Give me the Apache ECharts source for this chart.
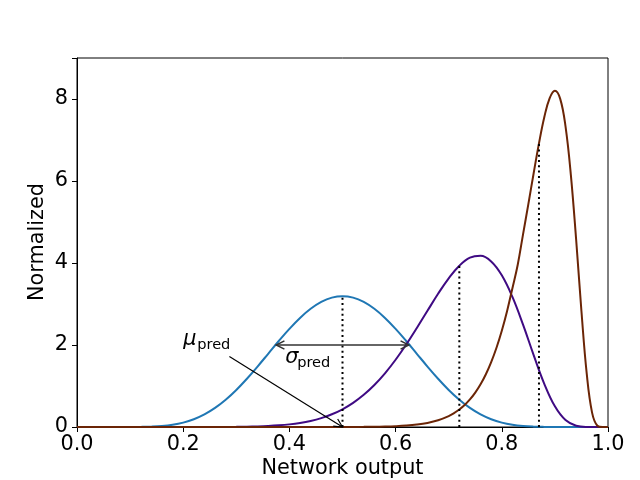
<!DOCTYPE html>
<html><head><meta charset="utf-8">
<script src="https://cdn.jsdelivr.net/npm/echarts@6/dist/echarts.min.js"></script>
<style>html,body{margin:0;padding:0;background:#fff;overflow:hidden}#c{width:640px;height:480px}</style>
</head><body><div id="c"></div>
<script>
const xGrid = [0,0.02,0.04,0.06,0.08,0.1,0.12,0.14,0.16,0.18,0.2,0.22,0.24,0.26,0.28,0.3,0.32,0.34,0.36,0.38,0.4,0.42,0.44,0.46,0.48,0.5,0.52,0.54,0.56,0.58,0.6,0.62,0.64,0.66,0.68,0.7,0.72,0.74,0.76,0.78,0.8,0.82,0.84,0.86,0.88,0.9,0.92,0.94,0.96,0.98,1];
const blueY = [0,0,0,0,0.0001,0.0006,0.0027,0.0091,0.0243,0.0544,0.1068,0.1887,0.3067,0.4650,0.6646,0.9038,1.1771,1.4750,1.7858,2.0975,2.3927,2.6593,2.8827,3.0512,3.1560,3.1915,3.1560,3.0512,2.8827,2.6593,2.3927,2.0975,1.7858,1.4750,1.1771,0.9038,0.6646,0.4650,0.3067,0.1887,0.1068,0.0544,0.0243,0.0091,0.0027,0.0006,0.0001,0,0,0,0];
const purpleY = [0,0,0,0,0,0,0,0,0,0,0.0001,0.0002,0.0004,0.0010,0.0021,0.0041,0.0078,0.0141,0.0242,0.0401,0.0640,0.0990,0.1487,0.2175,0.3101,0.4319,0.5883,0.7841,1.0238,1.3090,1.6395,2.0112,2.4147,2.8346,3.2483,3.6259,3.9337,4.1295,4.1747,4.0377,3.7002,3.1721,2.4963,1.7538,1.0541,0.5044,0.1692,0.0306,0.0016,0,0];
const brownX = [0,0.1,0.2,0.3,0.4,0.42,0.44,0.46,0.48,0.5,0.52,0.54,0.56,0.58,0.6,0.62,0.64,0.66,0.68,0.7,0.71,0.72,0.73,0.74,0.75,0.76,0.77,0.78,0.79,0.8,0.81,0.82,0.83,0.84,0.85,0.86,0.87,0.88,0.89,0.9,0.91,0.92,0.93,0.94,0.95,0.96,0.97,0.98,0.99,1];
const brownY = [0,0,0,0,0,0.0001,0.0001,0.0003,0.0006,0.0011,0.0020,0.0037,0.0067,0.0118,0.0206,0.0353,0.0598,0.0998,0.1642,0.2664,0.3377,0.4264,0.5361,0.6718,0.8379,1.0406,1.2862,1.5817,1.9330,2.3481,2.8311,3.3858,3.9588,4.6999,5.4356,6.1899,6.9177,7.5551,8.0170,8.2016,8.0026,7.3307,6.1571,4.5722,2.8221,1.2944,0.3512,0.0317,0.0001,0];
const meanX = [0.5, 0.72, 0.87];
const meanTop = [3.19, 3.93, 6.92];
const muTextPos = [0.2, 2.0];
const muArrowFrom = [0.287, 1.72];
const muArrowTo = [0.5, 0.0];
const sigmaArrow = [[0.375, 2.0], [0.625, 2.0]];
const sigmaTextPos = [0.392, 1.56];
const xTicks = [0, 0.2, 0.4, 0.6, 0.8, 1.0];
const yTicks = [0, 2, 4, 6, 8];
const xTitle = 'Network output';
const yTitle = 'Normalized';

const FONT = 'DejaVu Sans';
const FS = 20.8;
const SUB = 14.6;
const zip = (xs, ys) => xs.map((x, i) => [x, ys[i]]);

function arrowHead(tip, tail, L, W) {
  const dx = tip[0] - tail[0], dy = tip[1] - tail[1];
  const len = Math.sqrt(dx * dx + dy * dy);
  const ux = dx / len, uy = dy / len, nx = -uy, ny = ux;
  return [[tip[0] - L * ux + W * nx, tip[1] - L * uy + W * ny], tip, [tip[0] - L * ux - W * nx, tip[1] - L * uy - W * ny]];
}
function txt(x, y, s, size, italic) {
  return { type: 'text', x: x, y: y, style: { text: s, fontSize: size, fontFamily: FONT, fontStyle: italic ? 'italic' : 'normal', fill: '#000', align: 'left', verticalAlign: 'middle', textAlign: 'left', textVerticalAlign: 'middle' } };
}

const chart = echarts.init(document.getElementById('c'), null, { renderer: 'canvas' });
const lineBase = { type: 'line', showSymbol: false, symbol: 'none', smooth: 0.4, clip: true, animation: false };
const series = [
  Object.assign({}, lineBase, { data: zip(xGrid, blueY), lineStyle: { color: '#1f77b4', width: 2 }, z: 2 }),
  Object.assign({}, lineBase, { data: zip(xGrid, purpleY), lineStyle: { color: '#3f0a83', width: 2 }, z: 3 }),
  Object.assign({}, lineBase, { data: zip(brownX, brownY), lineStyle: { color: '#6b2506', width: 2 }, z: 4 })
];
meanX.forEach((mx, i) => {
  series.push({ type: 'line', showSymbol: false, symbol: 'none', animation: false, z: 5,
    data: [[mx, 0], [mx, meanTop[i]]],
    lineStyle: { color: '#000', width: 2, type: [2, 3.3], cap: 'butt' } });
});
series.push({
  type: 'custom', coordinateSystem: 'cartesian2d', animation: false, z: 6, clip: false,
  data: [[0, 0]],
  renderItem: function (params, api) {
    const a0 = api.coord(muArrowFrom), a1 = api.coord(muArrowTo);
    const s0 = api.coord(sigmaArrow[0]), s1 = api.coord(sigmaArrow[1]);
    const mt = api.coord(muTextPos), st = api.coord(sigmaTextPos);
    const L = 8.3, W = 4.2;
    const children = [
      { type: 'polyline', shape: { points: [a0, a1] }, style: { stroke: '#000', lineWidth: 1.2, fill: null } },
      { type: 'polyline', shape: { points: arrowHead(a1, a0, L, W) }, style: { stroke: '#000', lineWidth: 1.2, fill: null } },
      { type: 'polyline', shape: { points: [s0, s1] }, style: { stroke: '#333', lineWidth: 1.5, fill: null } },
      { type: 'polyline', shape: { points: arrowHead(s0, s1, L, W) }, style: { stroke: '#333', lineWidth: 1.5, fill: null } },
      { type: 'polyline', shape: { points: arrowHead(s1, s0, L, W) }, style: { stroke: '#333', lineWidth: 1.5, fill: null } },
      txt(mt[0], mt[1] - 0.26 * FS, 'μ', FS, true),
      txt(mt[0] + 14, mt[1] + 4 - 0.26 * SUB, 'pred', SUB, false),
      txt(st[0], st[1] - 0.26 * FS, 'σ', FS, true),
      txt(st[0] + 12, st[1] + 4 - 0.26 * SUB, 'pred', SUB, false)
    ];
    return { type: 'group', children: children };
  }
});

chart.setOption({
  animation: false,
  backgroundColor: '#fff',
  graphic: [{
    type: 'text', x: 38, y: 242, rotation: Math.PI / 2, silent: true,
    style: { text: yTitle, fontFamily: FONT, fontSize: FS, fill: '#000', align: 'center', verticalAlign: 'middle', textAlign: 'center', textVerticalAlign: 'middle' }
  }],
  grid: { left: 77, right: 32, top: 58, bottom: 53, containLabel: false, outerBoundsMode: 'none', show: true, borderColor: '#000', borderWidth: 1, backgroundColor: 'transparent' },
  xAxis: {
    type: 'value', min: 0, max: 1, interval: 0.2,
    name: xTitle, nameLocation: 'middle', nameGap: 31, nameMoveOverlap: false,
    nameTextStyle: { fontFamily: FONT, fontSize: FS, color: '#000' },
    axisLine: { show: true, lineStyle: { color: '#000', width: 1 } },
    axisTick: { show: true, inside: false, length: 5, lineStyle: { color: '#000', width: 1 } },
    axisLabel: { fontFamily: FONT, fontSize: FS, color: '#000', margin: 7, formatter: v => (xTicks.some(t => Math.abs(t - v) < 1e-9) ? v.toFixed(1) : '') },
    splitLine: { show: false }
  },
  yAxis: {
    type: 'value', min: 0, max: 9, interval: 2,
    axisLine: { show: true, lineStyle: { color: '#000', width: 1 } },
    axisTick: { show: true, inside: false, length: 5, lineStyle: { color: '#000', width: 1 } },
    axisLabel: { fontFamily: FONT, fontSize: FS, color: '#000', margin: 9, formatter: v => (yTicks.indexOf(v) >= 0 ? String(v) : '') },
    splitLine: { show: false }
  },
  series: series
});
</script>
</body></html>
